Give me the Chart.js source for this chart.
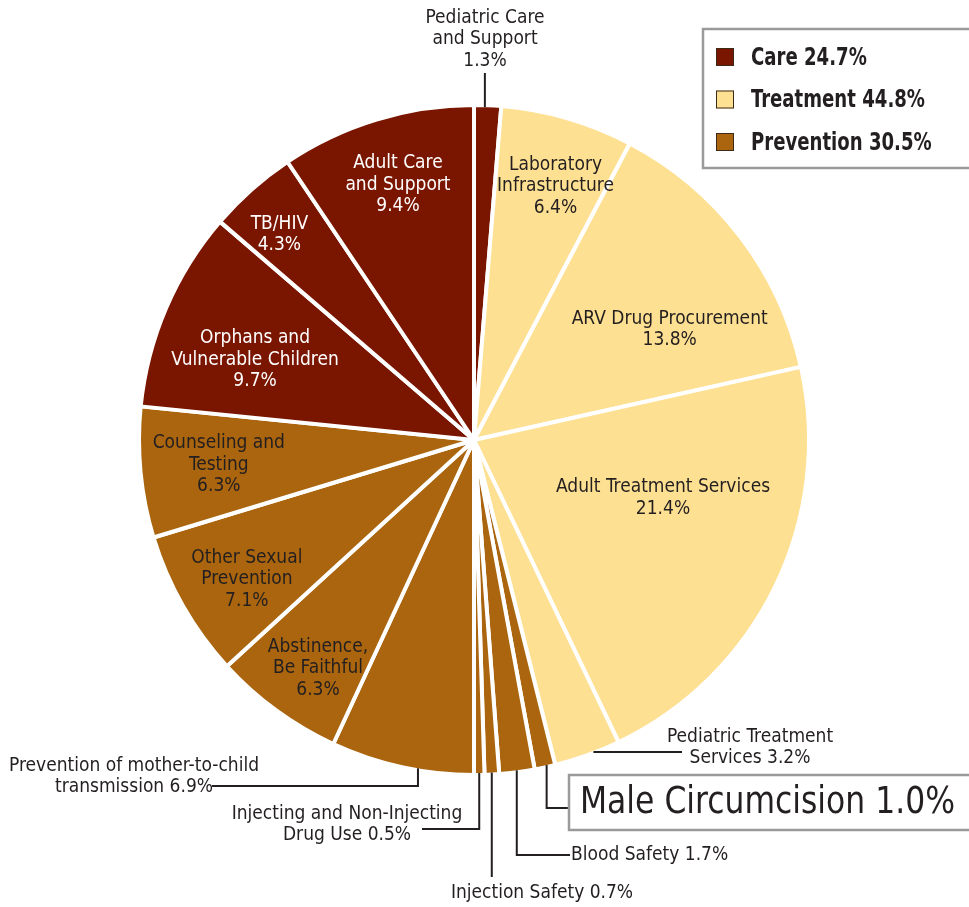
<!DOCTYPE html>
<html>
<head>
<meta charset="utf-8">
<script src="https://cdn.jsdelivr.net/npm/chart.js@4.4.0/dist/chart.umd.min.js"></script>
<style>
  body { margin: 0; background: #fff; }
  canvas { display: block; }
</style>
</head>
<body>
<canvas id="pie" width="969" height="907"></canvas>
<script>
const categorias = [
  'Pediatric Care and Support', 'Laboratory Infrastructure', 'ARV Drug Procurement',
  'Adult Treatment Services', 'Pediatric Treatment Services', 'Male Circumcision',
  'Blood Safety', 'Injection Safety', 'Injecting and Non-Injecting Drug Use',
  'Prevention of mother-to-child transmission', 'Abstinence, Be Faithful',
  'Other Sexual Prevention', 'Counseling and Testing', 'Orphans and Vulnerable Children',
  'TB/HIV', 'Adult Care and Support'
];
const valores = [1.3, 6.4, 13.8, 21.4, 3.2, 1.0, 1.7, 0.7, 0.5, 6.9, 6.3, 7.1, 6.3, 9.7, 4.3, 9.4];
const grupoDe = [0, 1, 1, 1, 1, 2, 2, 2, 2, 2, 2, 2, 2, 0, 0, 0];
const grupos = ['Care', 'Treatment', 'Prevention'];
const totalesGrupo = [24.7, 44.8, 30.5];

const COLORES = ['#7a1600', '#fee092', '#aa650e'];
const TEXTO = '#231f20';
const FUENTE = "'Liberation Sans Narrow', 'DejaVu Sans Condensed', 'Roboto', sans-serif";

// Etiquetas dentro del sector: [fracción del ángulo, fracción del radio]
const etiquetasDentro = {
  1: { at: [0.57, 0.80], lineas: ['Laboratory', 'Infrastructure'] },
  2: { at: [0.66, 0.675], lineas: ['ARV Drug Procurement'] },
  3: { at: [0.386, 0.594], lineas: ['Adult Treatment Services'] },
  10: { at: [0.42, 0.83], lineas: ['Abstinence,', 'Be Faithful'] },
  11: { at: [0.43, 0.80], lineas: ['Other Sexual', 'Prevention'] },
  12: { at: [0.50, 0.77], lineas: ['Counseling and', 'Testing'] },
  13: { at: [0.41, 0.70], lineas: ['Orphans and', 'Vulnerable Children'] },
  14: { at: [0.38, 0.85], lineas: ['TB/HIV'] },
  15: { at: [0.51, 0.80], lineas: ['Adult Care', 'and Support'] }
};

// Etiquetas fuera con línea guía
const etiquetasFuera = {
  0: { f: 0.4, ruta: [['v', 73]], texto: [485, 18], alinear: 'center', lineas: ['Pediatric Care', 'and Support'], pctSola: true },
  4: { f: 0.44, ruta: [['h', 682]], texto: [750, 737], alinear: 'center', lineas: ['Pediatric Treatment', 'Services'] },
  5: { f: 0.4, ruta: [['v', 808], ['h', 568]], caja: true, lineas: ['Male Circumcision'] },
  6: { f: 0.5, ruta: [['v', 855], ['h', 570]], texto: [571, 855], alinear: 'left', lineas: ['Blood Safety'] },
  7: { f: 0.5, ruta: [['v', 877]], texto: [542, 893], alinear: 'center', lineas: ['Injection Safety'] },
  8: { f: 0.5, ruta: [['v', 829], ['h', 422]], texto: [347, 814], alinear: 'center', lineas: ['Injecting and Non-Injecting', 'Drug Use'] },
  9: { f: 0.39, ruta: [['v', 786], ['h', 212]], texto: [134, 766], alinear: 'center', lineas: ['Prevention of mother-to-child', 'transmission'] }
};

const pct = v => v.toFixed(1) + '%';

function dibujarLineas(ctx, lineas, x, y, alto) {
  lineas.forEach((l, i) => ctx.fillText(l, x, y + i * alto));
}

// texto estrecho: se comprime en horizontal
function textoEstrecho(ctx, txt, x, y, escala) {
  ctx.save();
  ctx.translate(x, y);
  ctx.scale(escala, 1);
  ctx.fillText(txt, 0, 0);
  ctx.restore();
}

const pluginEtiquetas = {
  id: 'etiquetas',
  afterDraw(chart) {
    const ctx = chart.ctx;
    const arcos = chart.getDatasetMeta(0).data;
    const bw = chart.data.datasets[0].borderWidth;
    ctx.save();
    ctx.textBaseline = 'middle';

    // dentro
    ctx.font = '19px ' + FUENTE;
    ctx.textAlign = 'center';
    Object.keys(etiquetasDentro).forEach(k => {
      const i = +k, e = etiquetasDentro[k], a = arcos[i];
      const ang = a.startAngle + (a.endAngle - a.startAngle) * e.at[0];
      const r = (a.outerRadius - bw / 2) * e.at[1];
      const lineas = e.lineas.concat([pct(valores[i])]);
      const alto = 21.5;
      const x = a.x + Math.cos(ang) * r;
      const y = a.y + Math.sin(ang) * r - (lineas.length - 1) * alto / 2;
      ctx.fillStyle = grupoDe[i] === 0 ? '#ffffff' : TEXTO;
      dibujarLineas(ctx, lineas, x, y, alto);
    });

    // fuera
    Object.keys(etiquetasFuera).forEach(k => {
      const i = +k, e = etiquetasFuera[k], a = arcos[i];
      const ang = a.startAngle + (a.endAngle - a.startAngle) * e.f;
      const r = a.outerRadius - bw / 2;
      let px = a.x + Math.cos(ang) * r, py = a.y + Math.sin(ang) * r;
      if (e.ruta[0][0] === 'h') {
        px = a.x + Math.cos(ang) * (r + 8);
      }
      ctx.strokeStyle = TEXTO;
      ctx.lineWidth = 2;
      ctx.beginPath();
      ctx.moveTo(px, py);
      e.ruta.forEach(([d, v]) => {
        if (d === 'v') py = v; else px = v;
        ctx.lineTo(px, py);
      });
      ctx.stroke();

      ctx.fillStyle = TEXTO;
      if (e.caja) {
        ctx.strokeStyle = '#9a9a9a';
        ctx.lineWidth = 2.5;
        ctx.strokeRect(569, 775, 410, 55);
        ctx.font = '37px ' + FUENTE;
        ctx.textAlign = 'left';
        const txt = e.lineas[0] + ' ' + pct(valores[i]);
        textoEstrecho(ctx, txt, 580, 803, 375 / ctx.measureText(txt).width);
        return;
      }
      ctx.font = '19px ' + FUENTE;
      ctx.textAlign = e.alinear;
      let lineas = e.lineas.slice();
      if (e.pctSola) lineas.push(pct(valores[i]));
      else lineas[lineas.length - 1] += ' ' + pct(valores[i]);
      dibujarLineas(ctx, lineas, e.texto[0], e.texto[1], 21.5);
    });

    // leyenda
    ctx.strokeStyle = '#9a9a9a';
    ctx.lineWidth = 2.5;
    ctx.strokeRect(703, 29, 280, 139);
    ctx.font = 'bold 25px ' + FUENTE;
    ctx.textAlign = 'left';
    const escLeyenda = 174 / ctx.measureText('Treatment 44.8%').width;
    grupos.forEach((g, j) => {
      const y = 57 + j * 42.5;
      ctx.fillStyle = COLORES[j];
      ctx.fillRect(716, y - 9, 18, 18);
      ctx.strokeStyle = '#3b2a1a';
      ctx.lineWidth = 1;
      ctx.strokeRect(716.5, y - 8.5, 17, 17);
      ctx.fillStyle = TEXTO;
      textoEstrecho(ctx, g + ' ' + pct(totalesGrupo[j]), 751, y + 1, escLeyenda);
    });
    ctx.restore();
  }
};

new Chart(document.getElementById('pie'), {
  type: 'pie',
  data: {
    labels: categorias,
    datasets: [{
      data: valores,
      backgroundColor: grupoDe.map(g => COLORES[g]),
      borderColor: '#ffffff',
      borderWidth: 4
    }]
  },
  options: {
    responsive: false,
    animation: false,
    radius: 335,
    layout: { padding: { left: 0, right: 21, top: 0, bottom: 27 } },
    plugins: {
      legend: { display: false },
      tooltip: { enabled: false }
    }
  },
  plugins: [pluginEtiquetas]
});
</script>
</body>
</html>
